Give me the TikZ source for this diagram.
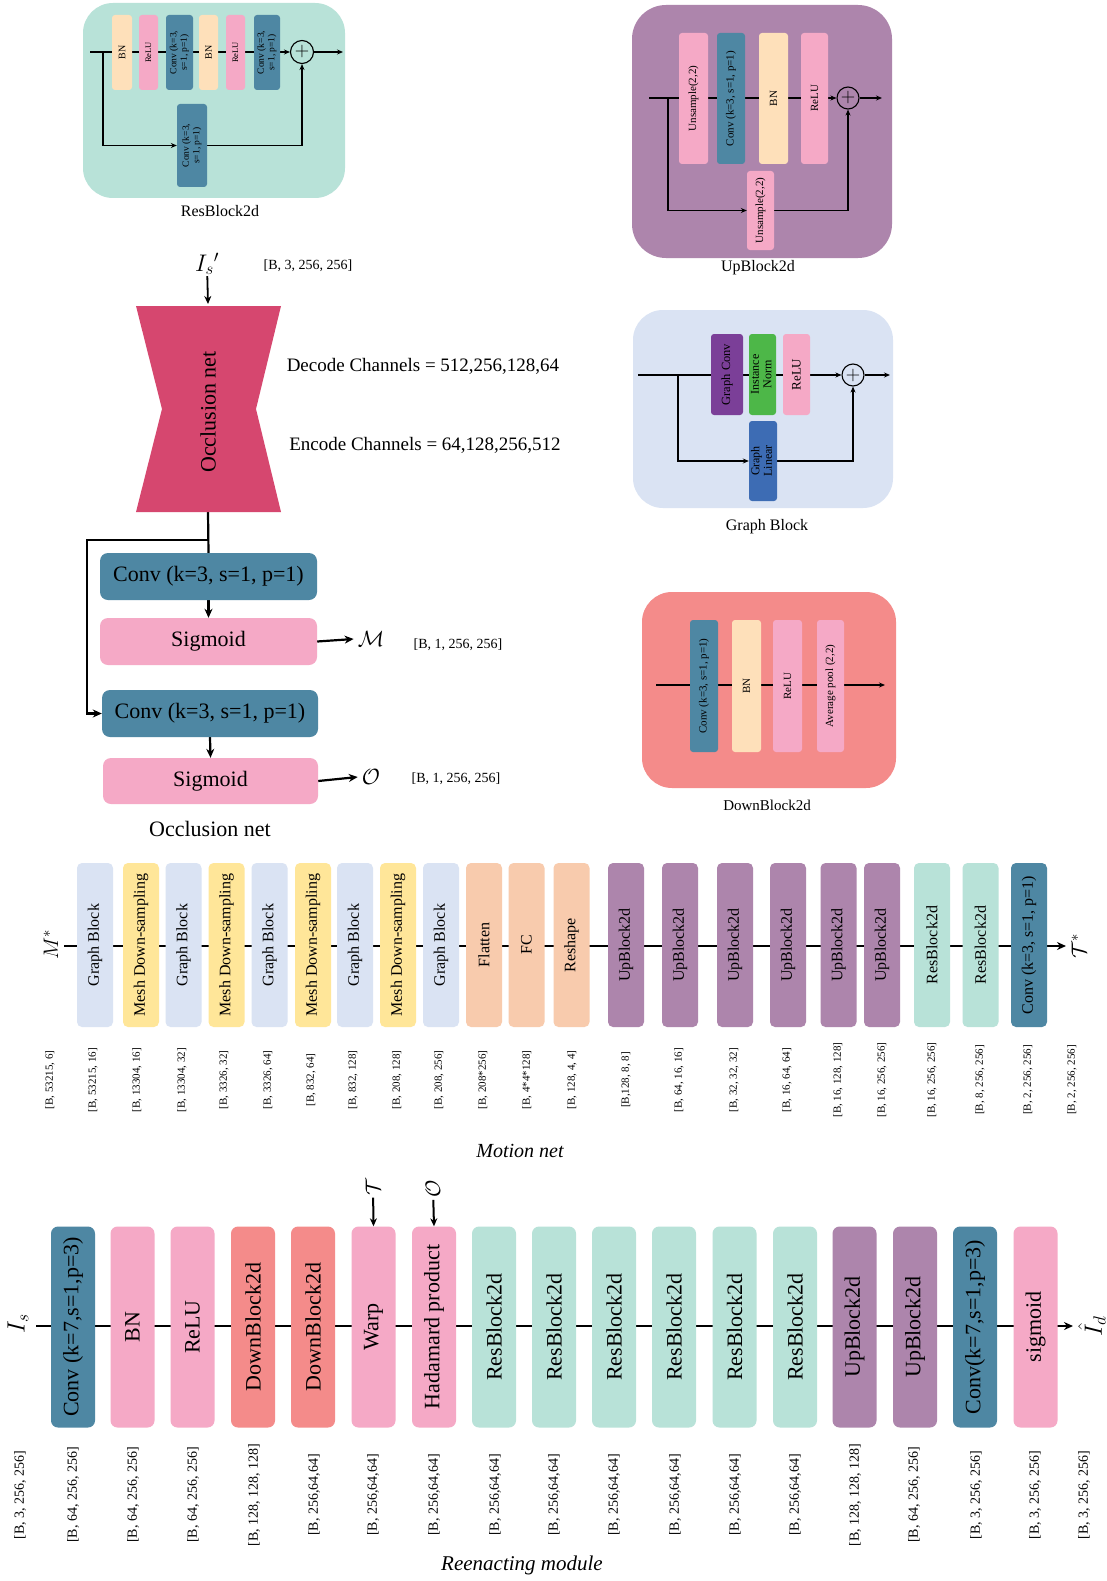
\RequirePackage{fix-cm}
\documentclass[tikz,border=0pt]{standalone}
\usepackage{fontspec}
\setmainfont{Liberation Serif}
\usepackage{graphicx}
\usetikzlibrary{arrows.meta}
\definecolor{cTeal}{HTML}{B8E2D8}
\definecolor{cPeach}{HTML}{FEE0BA}
\definecolor{cPink}{HTML}{F5A9C6}
\definecolor{cBlue}{HTML}{4E87A3}
\definecolor{cMauve}{HTML}{AD85AC}
\definecolor{cGraphBg}{HTML}{DAE3F3}
\definecolor{cPurple}{HTML}{7B3F98}
\definecolor{cGreen}{HTML}{4DB748}
\definecolor{cGLin}{HTML}{3D6CB4}
\definecolor{cSalmon}{HTML}{F48B8A}
\definecolor{cCrimson}{HTML}{D6476F}
\definecolor{cYellow}{HTML}{FFE699}
\definecolor{cOrange}{HTML}{F8CBAD}
\newcommand{\myrot}[1]{\rotatebox{90}{#1}}
\newcommand{\myrotb}[2]{\rotatebox{90}{\begin{tabular}{@{}c@{}}#1\\#2\end{tabular}}}
\pgfdeclarelayer{bglayer}
\pgfdeclarelayer{linelayer}
\pgfsetlayers{bglayer,linelayer,main}
\tikzset{
  panel/.style={rounded corners=30pt, inner sep=0pt},
  pblk/.style={rounded corners=3pt, inner sep=0pt, align=center},
  mblk/.style={rounded corners=5pt, inner sep=0pt, minimum width=36pt, minimum height=164pt, font=\fontsize{16}{19}\selectfont},
  rblk/.style={rounded corners=7pt, inner sep=0pt, minimum width=44pt, minimum height=201pt, font=\fontsize{22}{26}\selectfont},
  oblk/.style={rounded corners=8pt, inner sep=0pt, font=\fontsize{22}{26}\selectfont},
  mlab/.style={font=\fontsize{11}{13}\selectfont, inner sep=0pt},
  rlab/.style={font=\fontsize{14}{16}\selectfont, inner sep=0pt},
  ttl/.style={font=\fontsize{16}{19}\selectfont, inner sep=0pt},
  pline/.style={line width=1.1pt},
  parr/.style={line width=1.1pt, -{Stealth[length=6pt,width=5pt]}},
  sumc/.style={circle, draw, line width=1.1pt, minimum size=23pt, inner sep=0pt},
  thk/.style={line width=2.2pt},
  thkarr/.style={line width=2.2pt, -{Stealth[length=9pt,width=8pt]}},
}
\begin{document}
\begin{tikzpicture}[x=1pt,y=-1pt]
\useasboundingbox (0,0) rectangle (1107,1581);
\begin{pgfonlayer}{bglayer}
\fill[white] (0,0) rectangle (1107,1581);
\end{pgfonlayer}

% ================= ResBlock2d panel
\begin{pgfonlayer}{bglayer}
\node[panel, fill=cTeal, minimum width=262pt, minimum height=195pt] (rbbg) at (214,100.5) {};
\end{pgfonlayer}
\node[pblk, fill=cPeach, minimum width=20pt, minimum height=75pt, font=\fontsize{10}{11}\selectfont] (rb1) at (122,52.5) {\myrot{BN}};
\node[pblk, fill=cPink, minimum width=19pt, minimum height=75pt, font=\fontsize{8.5}{10}\selectfont] (rb2) at (148.5,52.5) {\myrot{ReLU}};
\node[pblk, fill=cBlue, minimum width=27pt, minimum height=75pt, font=\fontsize{9.5}{10.5}\selectfont] (rb3) at (179.5,52.5) {\myrotb{Conv (k=3,}{s=1, p=1)}};
\node[pblk, fill=cPeach, minimum width=19pt, minimum height=75pt, font=\fontsize{10}{11}\selectfont] (rb4) at (208.5,52.5) {\myrot{BN}};
\node[pblk, fill=cPink, minimum width=19pt, minimum height=75pt, font=\fontsize{8.5}{10}\selectfont] (rb5) at (235.5,52.5) {\myrot{ReLU}};
\node[pblk, fill=cBlue, minimum width=26pt, minimum height=75pt, font=\fontsize{9.5}{10.5}\selectfont] (rb6) at (267,52.5) {\myrotb{Conv (k=3,}{s=1, p=1)}};
\node[sumc] (rbsum) at (302,52) {\fontsize{20}{20}\selectfont$+$};
\node[pblk, fill=cBlue, minimum width=30pt, minimum height=83pt, font=\fontsize{9.5}{10.5}\selectfont] (rb7) at (192,145.5) {\myrotb{Conv (k=3,}{s=1, p=1)}};
\coordinate (rbin) at (90,52);
\coordinate (rbbr) at (103,52);
\coordinate (rbout) at (343,52);
\node[ttl] (rbtitle) at (220,211) {ResBlock2d};
\begin{pgfonlayer}{linelayer}
\draw[parr] (rbin) -- (rbsum);
\draw[parr] (rbsum) -- (rbout);
\draw[parr] (rbbr) |- (rb7.west);
\draw[parr] (rb7.east) -| (rbsum.south);
\end{pgfonlayer}

% ================= UpBlock2d panel
\begin{pgfonlayer}{bglayer}
\node[panel, rounded corners=34pt, fill=cMauve, minimum width=260pt, minimum height=253pt] (ubbg) at (762,131.5) {};
\end{pgfonlayer}
\node[pblk, fill=cPink, minimum width=29pt, minimum height=131pt, font=\fontsize{11}{13}\selectfont] (ub1) at (693.5,98.5) {\myrot{Unsample(2,2)}};
\node[pblk, fill=cBlue, minimum width=28pt, minimum height=131pt, font=\fontsize{11}{13}\selectfont] (ub2) at (731,98.5) {\myrot{Conv (k=3, s=1, p=1)}};
\node[pblk, fill=cPeach, minimum width=29pt, minimum height=131pt, font=\fontsize{11}{13}\selectfont] (ub3) at (773.5,98.5) {\myrot{BN}};
\node[pblk, fill=cPink, minimum width=27pt, minimum height=131pt, font=\fontsize{11}{13}\selectfont] (ub4) at (814.5,98.5) {\myrot{ReLU}};
\node[sumc, minimum size=22pt] (ubsum) at (848,98) {\fontsize{20}{20}\selectfont$+$};
\node[pblk, fill=cPink, minimum width=27pt, minimum height=79pt, font=\fontsize{11}{13}\selectfont] (ub5) at (760.5,210.5) {\myrot{Unsample(2,2)}};
\coordinate (ubin) at (649,98);
\coordinate (ubbr) at (668,98);
\coordinate (ubout) at (882,98);
\node[ttl] (ubtitle) at (758,268) {UpBlock2d};
\begin{pgfonlayer}{linelayer}
\draw[parr] (ubin) -- (ubsum);
\draw[parr] (ubsum) -- (ubout);
\draw[parr] (ubbr) |- (ub5.west);
\draw[parr] (ub5.east) -| (ubsum.south);
\end{pgfonlayer}

% ================= Graph Block panel
\begin{pgfonlayer}{bglayer}
\node[panel, fill=cGraphBg, minimum width=260pt, minimum height=198pt] (gbbg) at (763,409) {};
\end{pgfonlayer}
\node[pblk, fill=cPurple, minimum width=32pt, minimum height=81pt, font=\fontsize{12.5}{14}\selectfont] (gb1) at (727,374.5) {\myrot{Graph Conv}};
\node[pblk, fill=cGreen, minimum width=27pt, minimum height=81pt, font=\fontsize{12}{12.5}\selectfont] (gb2) at (762.5,374.5) {\myrotb{Instance}{Norm}};
\node[pblk, fill=cPink, minimum width=27pt, minimum height=81pt, font=\fontsize{13}{15}\selectfont] (gb3) at (796.5,374.5) {\myrot{ReLU}};
\node[sumc, minimum size=22pt] (gbsum) at (853,375) {\fontsize{20}{20}\selectfont$+$};
\node[pblk, fill=cGLin, minimum width=28pt, minimum height=80pt, font=\fontsize{12}{12.5}\selectfont] (gb4) at (763,461) {\myrotb{Graph}{Linear}};
\coordinate (gbin) at (638,375);
\coordinate (gbbr) at (678,375);
\coordinate (gbout) at (890,375);
\node[ttl] (gbtitle) at (767,527) {Graph Block};
\begin{pgfonlayer}{linelayer}
\draw[parr] (gbin) -- (gbsum);
\draw[parr] (gbsum) -- (gbout);
\draw[parr] (gbbr) |- (gb4.west);
\draw[parr] (gb4.east) -| (gbsum.south);
\end{pgfonlayer}

% ================= DownBlock2d panel
\begin{pgfonlayer}{bglayer}
\node[panel, fill=cSalmon, minimum width=254pt, minimum height=196pt] (dbbg) at (769,690) {};
\end{pgfonlayer}
\node[pblk, fill=cBlue, minimum width=28pt, minimum height=132pt, font=\fontsize{11}{13}\selectfont] (db1) at (704,686) {\myrot{Conv (k=3, s=1, p=1)}};
\node[pblk, fill=cPeach, minimum width=29pt, minimum height=132pt, font=\fontsize{11}{13}\selectfont] (db2) at (746.5,686) {\myrot{BN}};
\node[pblk, fill=cPink, minimum width=29pt, minimum height=132pt, font=\fontsize{11}{13}\selectfont] (db3) at (787.5,686) {\myrot{ReLU}};
\node[pblk, fill=cPink, minimum width=27pt, minimum height=132pt, font=\fontsize{11}{13}\selectfont] (db4) at (830.5,686) {\myrot{Average pool (2,2)}};
\coordinate (dbin) at (656,685);
\coordinate (dbout) at (885,685);
\node[ttl, font=\fontsize{15}{18}\selectfont] (dbtitle) at (767,805) {DownBlock2d};
\begin{pgfonlayer}{linelayer}
\draw[parr] (dbin) -- (dbout);
\end{pgfonlayer}

% ================= Occlusion net
\node[font=\fontsize{24}{28}\selectfont, inner sep=1pt] (islab) at (207,264) {$I_s{}'$};
\node[font=\fontsize{14}{16}\selectfont] (isdim) at (308,266) {[B, 3, 256, 256]};
\fill[cCrimson] (136,306) -- (281,306) -- (256,409) -- (281,512) -- (136,512) -- (162,409) -- cycle;
\coordinate (occtop) at (208,304);
\coordinate (occbot) at (208,512);
\node[font=\fontsize{22}{26}\selectfont] (occtxt) at (208,412) {\myrot{Occlusion net}};
\node[font=\fontsize{19}{22}\selectfont] (dec) at (423,366) {Decode Channels = 512,256,128,64};
\node[font=\fontsize{19}{22}\selectfont] (enc) at (425,445) {Encode Channels = 64,128,256,512};
\node[oblk, fill=cBlue, minimum width=217pt, minimum height=47pt] (c1) at (208.5,576.5) {Conv (k=3, s=1, p=1)};
\node[oblk, fill=cPink, minimum width=217pt, minimum height=47pt] (s1) at (208.5,641.5) {Sigmoid};
\node[oblk, fill=cBlue, minimum width=216pt, minimum height=47pt] (c2) at (210,713.5) {Conv (k=3, s=1, p=1)};
\node[oblk, fill=cPink, minimum width=215pt, minimum height=46pt] (s2) at (210.5,781) {Sigmoid};
\coordinate (jn) at (208,540);
\coordinate (lft) at (87,540);
\node[font=\fontsize{22}{26}\selectfont, inner sep=0pt] (mcal) at (371,639) {$\mathcal{M}$};
\node[font=\fontsize{14}{16}\selectfont] (mdim) at (458,645) {[B, 1, 256, 256]};
\node[font=\fontsize{22}{26}\selectfont, inner sep=0pt] (ocal) at (371,777) {$\mathcal{O}$};
\node[font=\fontsize{14}{16}\selectfont] (odim) at (456,779) {[B, 1, 256, 256]};
\node[font=\fontsize{22}{26}\selectfont] (occtitle) at (210,829) {Occlusion net};
\begin{pgfonlayer}{linelayer}
\draw[line width=1.8pt, -{Stealth[length=8pt,width=7pt]}] (islab) -- (occtop);
\draw[thk] (occbot) -- (c1.north);
\draw[thkarr] (jn) -- (lft) |- (c2.west);
\draw[thkarr] (c1.south) -- (s1.north);
\draw[thkarr] (c2.south) -- (s2.north);
\draw[thkarr] (s1.east) -- ([xshift=-4pt]mcal.west);
\draw[thkarr] (s2.east) -- ([xshift=-4pt]ocal.west);
\end{pgfonlayer}

% ================= Motion net
\node[font=\fontsize{21}{24}\selectfont, inner sep=0pt] (mstar) at (51,945) {\myrot{$M^*$}};
\coordinate (mstart) at (64,946);
\coordinate (mend) at (1066,946);
\node[font=\fontsize{21}{24}\selectfont, inner sep=0pt] (tstar) at (1079,946) {\myrot{$\mathcal{T}^*$}};
\foreach \x/\c/\t [count=\i] in {95/cGraphBg/Graph Block, 141/cYellow/Mesh Down-sampling, 183.5/cGraphBg/Graph Block, 226.5/cYellow/Mesh Down-sampling, 269.5/cGraphBg/Graph Block, 313/cYellow/Mesh Down-sampling, 355/cGraphBg/Graph Block, 398/cYellow/Mesh Down-sampling, 441/cGraphBg/Graph Block, 484/cOrange/Flatten, 526.5/cOrange/FC, 571.5/cOrange/Reshape, 626/cMauve/UpBlock2d, 680/cMauve/UpBlock2d, 735/cMauve/UpBlock2d, 788/cMauve/UpBlock2d, 838.5/cMauve/UpBlock2d, 882/cMauve/UpBlock2d, 932/cTeal/ResBlock2d, 980.5/cTeal/ResBlock2d, 1029/cBlue/{Conv (k=3, s=1, p=1)}}
  {\node[mblk, fill=\c] (m\i) at (\x,945) {\myrot{\t}};}
\foreach \x/\t [count=\i] in {50/{[B, 53215, 6]}, 93/{[B, 53215, 16]}, 137/{[B, 13304, 16]}, 182/{[B, 13304, 32]}, 224/{[B, 3326, 32]}, 268/{[B, 3326, 64]}, 311/{[B, 832, 64]}, 353/{[B, 832, 128]}, 397/{[B, 208, 128]}, 439/{[B, 208, 256]}, 483/{[B, 208*256]}, 527/{[B, 4*4*128]}, 572/{[B, 128, 4, 4]}, 626/{[B,128, 8, 8]}, 679/{[B, 64, 16, 16]}, 734/{[B, 32, 32, 32]}, 787/{[B, 16, 64, 64]}, 838/{[B, 16, 128, 128]}, 882/{[B, 16, 256, 256]}, 932/{[B, 16, 256, 256]}, 980/{[B, 8, 256, 256]}, 1028/{[B, 2, 256, 256]}, 1072/{[B, 2, 256, 256]}}
  {\node[mlab] (ml\i) at (\x,1080) {\myrot{\t}};}
\node[font=\fontsize{20}{24}\selectfont\itshape] (mtitle) at (520,1151) {Motion net};
\begin{pgfonlayer}{linelayer}
\draw[line width=2.4pt, -{Stealth[length=9pt,width=8pt]}] (mstart) -- (mend);
\end{pgfonlayer}

% ================= Reenacting module
\node[font=\fontsize{25}{28}\selectfont, inner sep=0pt] (islbl) at (18,1324) {\myrot{$I_s$}};
\coordinate (rstart) at (36,1326);
\coordinate (rend) at (1073,1326);
\node[font=\fontsize{25}{28}\selectfont, inner sep=0pt] (idlbl) at (1092,1326) {\myrot{$\hat{I}_d$}};
\foreach \x/\c/\t [count=\i] in {73/cBlue/{Conv (k=7,s=1,p=3)}, 132.5/cPink/BN, 192.5/cPink/ReLU, 253/cSalmon/DownBlock2d, 313/cSalmon/DownBlock2d, 373.5/cPink/Warp, 434/cPink/Hadamard product, 494/cTeal/ResBlock2d, 554/cTeal/ResBlock2d, 614/cTeal/ResBlock2d, 674/cTeal/ResBlock2d, 734.5/cTeal/ResBlock2d, 795/cTeal/ResBlock2d, 854.5/cMauve/UpBlock2d, 915/cMauve/UpBlock2d, 975/cBlue/{Conv(k=7,s=1,p=3)}, 1035.5/cPink/sigmoid}
  {\node[rblk, fill=\c] (r\i) at (\x,1327) {\myrot{\t}};}
\node[font=\fontsize{21}{24}\selectfont, inner sep=2pt] (tcal) at (373,1187) {\myrot{$\mathcal{T}$}};
\node[font=\fontsize{21}{24}\selectfont, inner sep=2pt] (ocal2) at (433,1189) {\myrot{$\mathcal{O}$}};
\foreach \x/\t [count=\i] in {20/{[B, 3, 256, 256]}, 73/{[B, 64, 256, 256]}, 133/{[B, 64, 256, 256]}, 193/{[B, 64, 256, 256]}, 254/{[B, 128, 128, 128]}, 314/{[B, 256,64,64]}, 373/{[B, 256,64,64]}, 434/{[B, 256,64,64]}, 495/{[B, 256,64,64]}, 554/{[B, 256,64,64]}, 614/{[B, 256,64,64]}, 675/{[B, 256,64,64]}, 735/{[B, 256,64,64]}, 795/{[B, 256,64,64]}, 855/{[B, 128, 128, 128]}, 914/{[B, 64, 256, 256]}, 976/{[B, 3, 256, 256]}, 1035/{[B, 3, 256, 256]}, 1084/{[B, 3, 256, 256]}}
  {\node[rlab] (rl\i) at (\x,1495) {\myrot{\t}};}
\node[font=\fontsize{21}{25}\selectfont\itshape] (rtitle) at (522,1565) {Reenacting module};
\begin{pgfonlayer}{linelayer}
\draw[line width=2pt, -{Stealth[length=9pt,width=8pt]}] (rstart) -- (rend);
\draw[line width=2pt, -{Stealth[length=8pt,width=7pt]}] (tcal) -- (r6.north);
\draw[line width=2pt, -{Stealth[length=8pt,width=7pt]}] (ocal2) -- (r7.north);
\end{pgfonlayer}
\end{tikzpicture}
\end{document}
